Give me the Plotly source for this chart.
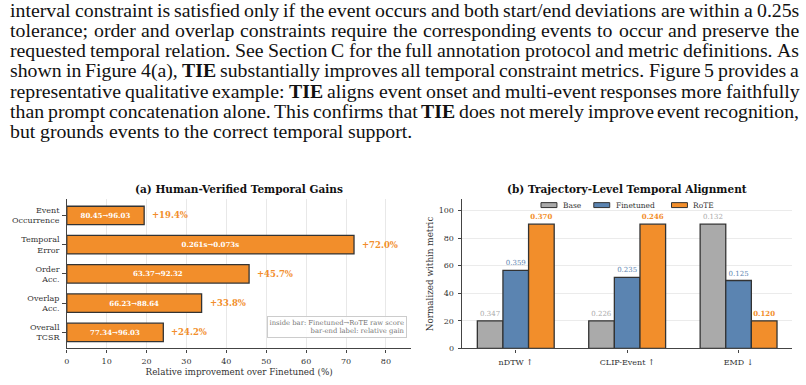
import plotly.graph_objects as go

# ---------------- data ----------------
# Panel (a): human-verified temporal gains
metrics_a = ["Event<br>Occurrence", "Temporal<br>Error", "Order<br>Acc.", "Overlap<br>Acc.", "Overall<br>TCSR"]
gain_a = [19.4, 72.0, 45.7, 33.8, 24.2]
gain_labels_a = ["+19.4%", "+72.0%", "+45.7%", "+33.8%", "+24.2%"]
raw_a = ["80.45→96.03", "0.261s→0.073s", "63.37→92.32", "66.23→88.64", "77.34→96.03"]
ticks_a = [0, 10, 20, 30, 40, 50, 60, 70, 80]

# Panel (b): trajectory-level temporal alignment (normalized within metric)
metrics_b = ["nDTW ↑", "CLIP-Event ↑", "EMD ↓"]
series_b = ["Base", "Finetuned", "RoTE"]
norm_base = [20, 20, 90]
norm_fine = [56.5, 51.5, 49.2]
norm_rote = [90, 90, 20]
raw_base = ["0.347", "0.226", "0.132"]
raw_fine = ["0.359", "0.235", "0.125"]
raw_rote = ["0.370", "0.246", "0.120"]
ticks_b = [0, 20, 40, 60, 80, 100]

# Paragraph text above the figure (**x** = bold)
para_lines = [
    "interval constraint is satisfied only if the event occurs and both start/end deviations are within a 0.25s",
    "tolerance; order and overlap constraints require the corresponding events to occur and preserve the",
    "requested temporal relation. See Section C for the full annotation protocol and metric definitions. As",
    "shown in Figure 4(a), **TIE** substantially improves all temporal constraint metrics. Figure 5 provides a",
    "representative qualitative example: **TIE** aligns event onset and multi-event responses more faithfully",
    "than prompt concatenation alone. This confirms that **TIE** does not merely improve event recognition,",
    "but grounds events to the correct temporal support.",
]

W, H = 806, 385
ORANGE = "#F28E2B"
BLUE = "#5B84B1"
GRAY = "#AAAAAA"
EDGE = "#333333"
SERIF = "DejaVu Serif"

# Times (Liberation Serif) advance widths per 1000 em, used for justification
TIMES = {" ": 250, "!": 333, "(": 333, ")": 333, ",": 250, "-": 333, ".": 250, "/": 278,
         ":": 278, ";": 278, "0": 500, "1": 500, "2": 500, "3": 500, "4": 500, "5": 500,
         "6": 500, "7": 500, "8": 500, "9": 500,
         "A": 722, "B": 667, "C": 667, "D": 722, "E": 611, "F": 556, "G": 722, "H": 722,
         "I": 333, "J": 389, "K": 722, "L": 611, "M": 889, "N": 722, "O": 722, "P": 556,
         "Q": 722, "R": 667, "S": 556, "T": 611, "U": 722, "V": 722, "W": 944, "X": 722,
         "Y": 722, "Z": 611,
         "a": 444, "b": 500, "c": 444, "d": 500, "e": 444, "f": 333, "g": 500, "h": 500,
         "i": 278, "j": 278, "k": 500, "l": 278, "m": 778, "n": 500, "o": 500, "p": 500,
         "q": 500, "r": 333, "s": 389, "t": 278, "u": 500, "v": 500, "w": 722, "x": 500,
         "y": 500, "z": 444}
TIMES_BOLD = {"T": 667, "I": 389, "E": 667}

fig = go.Figure()

# ---------------- panel (a) ----------------
fig.add_trace(go.Bar(
    x=gain_a, y=metrics_a, orientation="h", width=0.63,
    marker=dict(color=ORANGE, line=dict(color=EDGE, width=1.3)),
    text=["<b>%s</b>" % t for t in raw_a], textposition="inside", insidetextanchor="middle",
    textangle=0, constraintext="none",
    textfont=dict(family=SERIF, size=7, color="white"),
    xaxis="x", yaxis="y", showlegend=False, hoverinfo="skip",
))
for v, cat, lab in zip(gain_a, metrics_a, gain_labels_a):
    fig.add_annotation(x=v, y=cat, xref="x", yref="y", text="<b>%s</b>" % lab,
                       showarrow=False, xanchor="left", xshift=6,
                       font=dict(family=SERIF, size=8.5, color=ORANGE))

# ---------------- panel (b) ----------------
bw = 0.23
xpos = list(range(len(metrics_b)))
for i, (name, vals, raws, col, bold) in enumerate([
        ("Base", norm_base, raw_base, GRAY, False),
        ("Finetuned", norm_fine, raw_fine, BLUE, False),
        ("RoTE", norm_rote, raw_rote, ORANGE, True)]):
    fig.add_trace(go.Bar(
        x=xpos, y=vals, name=name, width=bw, offset=(i - 1.5) * bw,
        marker=dict(color=col, line=dict(color=EDGE, width=1.3)),
        text=[("<b>%s</b>" % r) if bold else r for r in raws],
        textposition="outside", textangle=0, constraintext="none", cliponaxis=False,
        textfont=dict(family=SERIF, size=7, color=col),
        xaxis="x2", yaxis="y2", showlegend=False, hoverinfo="skip",
    ))

# manual legend (matplotlib-like wide patches)
leg = [("Base", GRAY, 540, 561), ("Finetuned", BLUE, 593, 614), ("RoTE", ORANGE, 671, 692)]
for name, col, px0, tx in leg:
    fig.add_shape(type="rect", xref="paper", yref="paper",
                  x0=px0 / W, x1=(px0 + 16) / W, y0=1 - 210.3 / H, y1=1 - 205.3 / H,
                  fillcolor=col, line=dict(color=EDGE, width=1))
    fig.add_annotation(x=tx / W, y=1 - 207.8 / H, xref="paper", yref="paper", text=name,
                       showarrow=False, xanchor="left", yanchor="middle", borderpad=0,
                       font=dict(family=SERIF, size=7.5, color="#333333"))

# ---------------- layout ----------------
ydom = [1 - 353 / H, 1 - 202 / H]
axfont = dict(family=SERIF, size=8, color="#333333")
titfont = dict(family=SERIF, size=8.8, color="#333333")
fig.update_layout(
    width=W, height=H, margin=dict(l=0, r=0, t=0, b=0),
    paper_bgcolor="white", plot_bgcolor="white",
    barmode="overlay", showlegend=False,
    xaxis=dict(domain=[64 / W, 410 / W], range=[0, 86.4], tickvals=ticks_a,
               showgrid=True, gridcolor="#E8E8E8", gridwidth=1, zeroline=False,
               showline=True, linecolor="#444444", linewidth=1.4,
               ticks="outside", ticklen=3.5, tickcolor="#444444", tickfont=axfont,
               ticklabelstandoff=1,
               title=dict(text="Relative improvement over Finetuned (%)", font=titfont, standoff=4),
               anchor="y"),
    yaxis=dict(domain=ydom, type="category", range=[4.55, -0.55],
               showgrid=False, zeroline=False, showline=True, linecolor="#444444", linewidth=1.4,
               ticks="outside", ticklen=3.5, tickcolor="#444444", tickfont=axfont,
               ticklabelstandoff=1, anchor="x"),
    xaxis2=dict(domain=[461 / W, 792 / W], range=[-0.48, 2.48], tickvals=xpos, ticktext=metrics_b,
                showgrid=False, zeroline=False, showline=True, linecolor="#444444", linewidth=1.4,
                ticks="outside", ticklen=3.5, tickcolor="#444444", tickfont=axfont,
                ticklabelstandoff=2, anchor="y2"),
    yaxis2=dict(domain=ydom, range=[0, 108], tickvals=ticks_b,
                showgrid=True, gridcolor="#EBEBEB", gridwidth=1, zeroline=False,
                showline=True, linecolor="#444444", linewidth=1.4,
                ticks="outside", ticklen=3.5, tickcolor="#444444", tickfont=axfont,
                ticklabelstandoff=2,
                title=dict(text="Normalized within metric", font=titfont, standoff=3),
                anchor="x2"),
)

# subplot titles
fig.add_annotation(x=237 / W, y=1 - 191 / H, xref="paper", yref="paper",
                   text="<b>(a) Human-Verified Temporal Gains</b>", showarrow=False,
                   xanchor="center", yanchor="middle",
                   font=dict(family=SERIF, size=10.5, color="#111111"))
fig.add_annotation(x=626 / W, y=1 - 191 / H, xref="paper", yref="paper",
                   text="<b>(b) Trajectory-Level Temporal Alignment</b>", showarrow=False,
                   xanchor="center", yanchor="middle",
                   font=dict(family=SERIF, size=10.5, color="#111111"))

# explanatory note box in panel (a)
fig.add_annotation(x=406 / W, y=1 - 331.5 / H, xref="paper", yref="paper",
                   text="inside bar: Finetuned→RoTE raw score<br>bar-end label: relative gain",
                   showarrow=False, xanchor="right", yanchor="middle", align="right",
                   bgcolor="rgba(255,255,255,0.85)", bordercolor="#CCCCCC", borderwidth=1, borderpad=1.5,
                   font=dict(family=SERIF, size=6.8, color="#777777"))

# ---------------- justified paragraph ----------------
FS = 19.8
LEFT, RIGHT = 7.0, 799.0
LINE0, LSTEP = 10.5, 20.3


def word_width(word, bold):
    table = TIMES_BOLD if bold else TIMES
    return sum(table.get(c, TIMES.get(c, 500)) for c in word) * FS / 1000.0


for li, line in enumerate(para_lines):
    words = line.split(" ")
    parsed = []
    for w in words:
        b = w.startswith("**") and w.endswith("**")
        parsed.append((w.strip("*"), b))
    widths = [word_width(w, b) for w, b in parsed]
    last = li == len(para_lines) - 1
    if last or len(parsed) < 2:
        gap = TIMES[" "] * FS / 1000.0
    else:
        gap = (RIGHT - LEFT - sum(widths)) / (len(parsed) - 1)
    xcur = LEFT
    ypx = LINE0 + li * LSTEP
    for (w, b), wd in zip(parsed, widths):
        fig.add_annotation(x=xcur / W, y=1 - ypx / H, xref="paper", yref="paper",
                           text=("<b>%s</b>" % w) if b else w, showarrow=False,
                           xanchor="left", yanchor="middle", borderpad=0, borderwidth=0,
                           font=dict(family="Liberation Serif", size=FS, color="#111111"))
        xcur += wd + gap

fig.write_html("out.html")
